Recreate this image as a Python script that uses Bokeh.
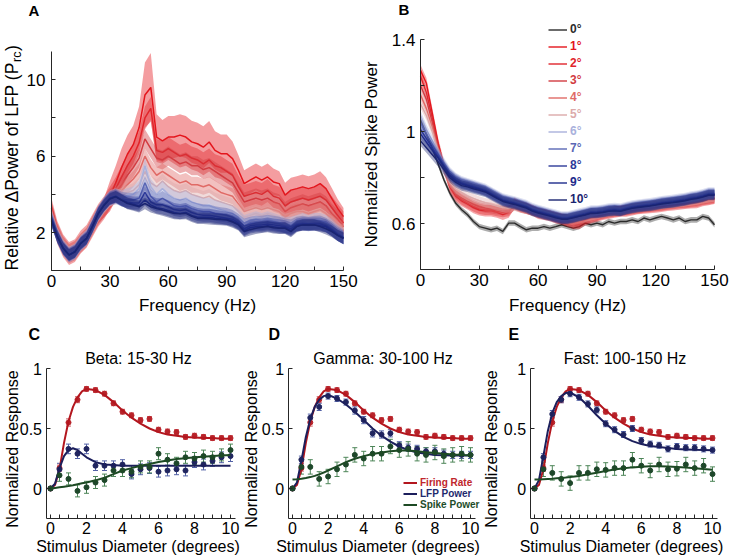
import numpy as np
from bokeh.plotting import figure
from bokeh.models import (ColumnDataSource, FixedTicker, Label, Legend, LegendItem,
                          Whisker, TeeHead, Range1d)
from bokeh.layouts import row, column
from bokeh.embed import file_html
from bokeh.resources import INLINE

FONT = "Liberation Sans"

# ---------------- Panel A / B data (frequency grid, Hz) ----------------
FREQ = [0, 3, 6, 9, 12, 15, 18, 21, 24, 27, 30, 33, 36, 39, 42, 45, 48, 51, 54, 57,
        60, 63, 66, 69, 72, 75, 78, 81, 84, 87, 90, 93, 96, 99, 102, 105, 108, 111,
        114, 117, 120, 123, 126, 129, 132, 135, 138, 141, 144, 147, 150]

DEG_LABELS = ["0°", "1°", "2°", "3°", "4°", "5°", "6°", "7°", "8°", "9°", "10°"]
DEG_COLORS = ["#2b2b2b", "#e4151c", "#e0252b", "#d23b41", "#e06a66", "#dcaaaa",
              "#a9b1dc", "#5a67b5", "#2d3a99", "#1e2b8c", "#1a2470"]

# Panel A: relative delta power of LFP, stimulus diameters 1..10 deg
LFP_1 = [3.3, 2.1, 1.35, 0.95, 1.1, 1.5, 1.8, 2.4, 2.9, 3.3,
         3.9, 4.6, 5.4, 6.1, 6.6, 7.5, 9.2, 9.6, 7.0, 6.8, 7.0, 7.0, 7.1, 7.0, 6.75, 6.65,
         6.47, 6.74, 6.3, 6.13, 6.13, 5.87, 5.26, 4.56, 4.74, 4.91, 4.74, 4.91, 4.65, 4.56,
         3.96, 4.22, 4.3, 4.39, 4.3, 4.39, 4.56, 4.3, 3.78, 3.26, 2.83]
LFP_2 = [3.2, 2.0, 1.3, 0.9, 1.05, 1.5, 1.8, 2.35, 2.9, 3.3,
         3.8, 4.3, 4.9, 5.5, 6.0, 6.7, 8.0, 8.5, 6.3, 6.2, 6.4, 6.2, 6.0, 6.1, 5.9, 5.8,
         5.6, 5.8, 5.5, 5.4, 5.2, 5.0, 4.4, 3.9, 4.0, 4.1, 4.0, 4.2, 3.9, 3.8,
         3.4, 3.6, 3.7, 3.8, 3.7, 3.8, 3.9, 3.7, 3.3, 2.9, 2.5]
LFP_3 = [3.1, 2.0, 1.3, 0.9, 1.05, 1.45, 1.75, 2.35, 2.9, 3.3,
         3.75, 4.1, 4.5, 5.0, 5.4, 5.9, 6.9, 6.4, 5.9, 5.8, 6.0, 5.8, 5.6, 5.7, 5.5, 5.5,
         5.3, 5.4, 5.2, 5.0, 4.8, 4.6, 4.1, 3.6, 3.7, 3.8, 3.7, 3.8, 3.6, 3.5,
         3.1, 3.3, 3.4, 3.5, 3.4, 3.5, 3.6, 3.4, 3.0, 2.7, 2.3]
LFP_4 = [3.0, 1.95, 1.25, 0.88, 1.0, 1.45, 1.75, 2.35, 2.95, 3.35,
         3.75, 3.95, 4.2, 4.5, 4.8, 5.2, 6.0, 5.4, 5.0, 5.2, 5.0, 4.8, 4.6, 4.7, 4.5, 4.5,
         4.4, 4.5, 4.3, 4.1, 4.0, 3.9, 3.5, 3.1, 3.2, 3.3, 3.2, 3.3, 3.2, 3.1,
         2.8, 3.0, 3.1, 3.1, 3.0, 3.1, 3.2, 3.0, 2.7, 2.4, 2.1]
LFP_5 = [2.9, 1.9, 1.25, 0.87, 1.0, 1.45, 1.75, 2.35, 2.95, 3.4,
         3.75, 3.85, 3.95, 4.1, 4.2, 4.5, 5.2, 4.6, 4.4, 4.7, 4.4, 4.2, 4.1, 4.2, 4.0, 3.9,
         3.8, 3.9, 3.7, 3.6, 3.5, 3.4, 3.1, 2.8, 2.9, 3.0, 2.9, 3.0, 2.9, 2.8,
         2.6, 2.7, 2.8, 2.8, 2.7, 2.8, 2.9, 2.7, 2.5, 2.2, 2.0]
LFP_6 = [2.8, 1.85, 1.2, 0.85, 1.0, 1.45, 1.72, 2.35, 3.0, 3.45,
         3.8, 3.9, 3.8, 3.9, 4.0, 4.3, 5.5, 4.4, 4.0, 4.3, 4.0, 3.8, 3.7, 3.8, 3.6, 3.5,
         3.4, 3.4, 3.3, 3.2, 3.1, 3.0, 2.8, 2.5, 2.6, 2.7, 2.6, 2.7, 2.6, 2.5,
         2.4, 2.4, 2.5, 2.6, 2.5, 2.6, 2.6, 2.5, 2.3, 2.0, 1.8]
LFP_7 = [2.75, 1.82, 1.2, 0.84, 1.0, 1.44, 1.72, 2.33, 3.0, 3.45,
         3.8, 3.9, 3.75, 3.7, 3.7, 3.8, 4.6, 3.9, 3.6, 3.8, 3.6, 3.4, 3.35, 3.4, 3.25, 3.15,
         3.1, 3.1, 3.0, 2.95, 2.9, 2.8, 2.6, 2.35, 2.45, 2.5, 2.5, 2.55, 2.5, 2.45,
         2.35, 2.3, 2.45, 2.5, 2.45, 2.5, 2.5, 2.4, 2.2, 1.95, 1.75]
LFP_8 = [2.7, 1.8, 1.18, 0.83, 1.0, 1.44, 1.7, 2.32, 3.0, 3.45,
         3.8, 3.9, 3.7, 3.6, 3.55, 3.55, 4.1, 3.6, 3.45, 3.45, 3.35, 3.2, 3.15, 3.2, 3.05, 2.95,
         2.9, 2.9, 2.85, 2.8, 2.75, 2.7, 2.5, 2.2, 2.35, 2.4, 2.4, 2.45, 2.4, 2.35,
         2.3, 2.2, 2.4, 2.45, 2.45, 2.45, 2.45, 2.35, 2.15, 1.9, 1.72]
LFP_9 = [2.65, 1.79, 1.18, 0.83, 1.0, 1.44, 1.7, 2.31, 3.0, 3.44,
         3.78, 3.88, 3.7, 3.55, 3.48, 3.4, 3.7, 3.45, 3.3, 3.25, 3.15, 3.05, 3.0, 3.05, 2.9, 2.8,
         2.8, 2.8, 2.75, 2.72, 2.7, 2.6, 2.45, 2.1, 2.25, 2.3, 2.3, 2.35, 2.3, 2.25,
         2.25, 2.1, 2.35, 2.4, 2.4, 2.4, 2.35, 2.3, 2.1, 1.85, 1.7]
LFP_10 = [2.6, 1.78, 1.17, 0.82, 0.98, 1.42, 1.68, 2.3, 2.98, 3.42,
          3.75, 3.87, 3.7, 3.52, 3.44, 3.35, 3.52, 3.35, 3.26, 3.18, 3.09, 3.0, 2.98, 3.0, 2.85, 2.74,
          2.74, 2.72, 2.7, 2.68, 2.66, 2.55, 2.4, 2.05, 2.15, 2.22, 2.28, 2.31, 2.25, 2.22,
          2.22, 2.05, 2.31, 2.4, 2.4, 2.4, 2.31, 2.2, 2.05, 1.85, 1.7]
LFP_1_SEM = [0.3, 0.3, 0.25, 0.25, 0.25, 0.25, 0.3, 0.3, 0.4, 0.5,
             0.8, 0.9, 1.0, 1.0, 1.0, 1.1, 1.7, 1.8, 1.2, 1.1, 1.1, 1.1, 1.1, 1.1, 1.1, 1.1,
             1.1, 1.1, 1.0, 1.0, 1.0, 0.9, 0.8, 0.7, 0.7, 0.7, 0.7, 0.7, 0.7, 0.65,
             0.65, 0.65, 0.65, 0.65, 0.65, 0.65, 0.65, 0.6, 0.55, 0.5, 0.45]
LFP_SEM_OTHERS = [0.6, 0.5, 0.42, 0.38, 0.42, 0.38, 0.34, 0.3, 0.3]

# Panel B: normalized spike power, diameters 0..10 deg
SPK_0 = [1.05, 0.99, 0.93, 0.86, 0.79, 0.733, 0.689, 0.661, 0.639, 0.61,
         0.588, 0.581, 0.574, 0.581, 0.567, 0.603, 0.603, 0.588, 0.574, 0.581,
         0.581, 0.588, 0.581, 0.588, 0.596, 0.588, 0.581, 0.588, 0.603, 0.596,
         0.603, 0.596, 0.61, 0.603, 0.61, 0.61, 0.617, 0.61, 0.625, 0.617,
         0.625, 0.632, 0.625, 0.617, 0.625, 0.61, 0.617, 0.617, 0.632, 0.625, 0.596]
SPK_1 = [1.266, 1.21, 1.08, 0.95, 0.85, 0.76, 0.72, 0.70, 0.686, 0.67,
         0.66, 0.656, 0.656, 0.65, 0.64, 0.65, 0.69, 0.675, 0.668, 0.66,
         0.645, 0.64, 0.635, 0.625, 0.62, 0.61, 0.60, 0.60, 0.617, 0.625,
         0.632, 0.64, 0.645, 0.65, 0.655, 0.655, 0.66, 0.665, 0.668, 0.67,
         0.672, 0.675, 0.68, 0.682, 0.685, 0.688, 0.69, 0.692, 0.70, 0.705, 0.71]
SPK_2 = [1.24, 1.17, 1.06, 0.94, 0.845, 0.765, 0.725, 0.705, 0.69, 0.675,
         0.665, 0.66, 0.66, 0.655, 0.65, 0.655, 0.685, 0.672, 0.665, 0.658,
         0.648, 0.642, 0.636, 0.628, 0.622, 0.614, 0.605, 0.606, 0.62, 0.628,
         0.635, 0.642, 0.648, 0.652, 0.656, 0.658, 0.662, 0.666, 0.67, 0.672,
         0.675, 0.678, 0.682, 0.685, 0.688, 0.69, 0.693, 0.695, 0.702, 0.706, 0.71]
SPK_3 = [1.20, 1.14, 1.04, 0.93, 0.84, 0.77, 0.73, 0.712, 0.698, 0.684,
         0.674, 0.668, 0.665, 0.66, 0.656, 0.66, 0.68, 0.67, 0.664, 0.656,
         0.648, 0.643, 0.638, 0.63, 0.625, 0.618, 0.61, 0.612, 0.624, 0.63,
         0.637, 0.644, 0.65, 0.654, 0.657, 0.66, 0.664, 0.668, 0.671, 0.674,
         0.677, 0.68, 0.684, 0.687, 0.69, 0.692, 0.695, 0.698, 0.704, 0.708, 0.712]
SPK_4 = [1.16, 1.10, 1.02, 0.92, 0.835, 0.775, 0.74, 0.72, 0.706, 0.693,
         0.683, 0.676, 0.672, 0.666, 0.662, 0.664, 0.678, 0.668, 0.662, 0.655,
         0.648, 0.643, 0.638, 0.631, 0.626, 0.62, 0.614, 0.616, 0.626, 0.632,
         0.638, 0.645, 0.65, 0.655, 0.658, 0.661, 0.665, 0.669, 0.672, 0.675,
         0.678, 0.681, 0.685, 0.688, 0.691, 0.694, 0.697, 0.70, 0.706, 0.71, 0.714]
SPK_5 = [1.12, 1.07, 1.0, 0.91, 0.83, 0.78, 0.75, 0.735, 0.72, 0.71,
         0.70, 0.692, 0.685, 0.677, 0.67, 0.668, 0.676, 0.668, 0.662, 0.654,
         0.647, 0.642, 0.637, 0.631, 0.626, 0.621, 0.617, 0.62, 0.628, 0.634,
         0.64, 0.646, 0.651, 0.655, 0.658, 0.662, 0.666, 0.67, 0.673, 0.676,
         0.679, 0.683, 0.686, 0.689, 0.692, 0.695, 0.698, 0.702, 0.708, 0.712, 0.716]
SPK_6 = [1.07, 1.01, 0.96, 0.91, 0.865, 0.825, 0.80, 0.785, 0.777, 0.769,
         0.761, 0.753, 0.739, 0.725, 0.711, 0.704, 0.698, 0.69, 0.682, 0.669,
         0.661, 0.654, 0.647, 0.64, 0.633, 0.633, 0.639, 0.645, 0.651, 0.658,
         0.659, 0.662, 0.667, 0.669, 0.667, 0.674, 0.68, 0.684, 0.687, 0.69,
         0.694, 0.699, 0.702, 0.705, 0.709, 0.713, 0.719, 0.723, 0.729, 0.737, 0.737]
SPK_7 = [1.04, 0.99, 0.945, 0.90, 0.857, 0.818, 0.795, 0.78, 0.772, 0.764,
         0.756, 0.748, 0.734, 0.72, 0.706, 0.699, 0.693, 0.685, 0.677, 0.664,
         0.656, 0.649, 0.642, 0.635, 0.628, 0.628, 0.634, 0.64, 0.646, 0.653,
         0.654, 0.657, 0.662, 0.664, 0.662, 0.669, 0.675, 0.679, 0.682, 0.685,
         0.689, 0.694, 0.697, 0.70, 0.704, 0.708, 0.714, 0.718, 0.724, 0.732, 0.732]
SPK_8 = [1.01, 0.97, 0.93, 0.892, 0.85, 0.812, 0.79, 0.776, 0.768, 0.76,
         0.752, 0.744, 0.73, 0.716, 0.702, 0.695, 0.689, 0.681, 0.673, 0.66,
         0.652, 0.645, 0.638, 0.631, 0.624, 0.624, 0.63, 0.636, 0.642, 0.649,
         0.65, 0.653, 0.658, 0.66, 0.658, 0.665, 0.671, 0.675, 0.678, 0.681,
         0.685, 0.69, 0.693, 0.696, 0.70, 0.704, 0.71, 0.714, 0.72, 0.728, 0.728]
SPK_9 = [0.99, 0.955, 0.92, 0.885, 0.845, 0.808, 0.786, 0.772, 0.765, 0.757,
         0.75, 0.742, 0.728, 0.714, 0.70, 0.693, 0.687, 0.679, 0.671, 0.658,
         0.65, 0.643, 0.636, 0.629, 0.622, 0.622, 0.628, 0.634, 0.64, 0.647,
         0.648, 0.651, 0.656, 0.658, 0.656, 0.663, 0.669, 0.673, 0.676, 0.679,
         0.683, 0.688, 0.691, 0.694, 0.698, 0.702, 0.708, 0.712, 0.718, 0.726, 0.726]
SPK_10 = [0.96, 0.93, 0.90, 0.87, 0.835, 0.80, 0.78, 0.766, 0.76, 0.752,
          0.745, 0.738, 0.724, 0.71, 0.697, 0.69, 0.684, 0.676, 0.668, 0.655,
          0.647, 0.64, 0.633, 0.626, 0.62, 0.62, 0.626, 0.632, 0.638, 0.645,
          0.646, 0.649, 0.654, 0.656, 0.654, 0.661, 0.667, 0.671, 0.674, 0.677,
          0.681, 0.686, 0.689, 0.692, 0.696, 0.70, 0.706, 0.71, 0.716, 0.724, 0.724]
SPK_SEM = [0.012, 0.024, 0.022, 0.02, 0.02, 0.02, 0.022, 0.022, 0.022, 0.022, 0.022]

# ---------------- Panels C-E data (stimulus diameter, degrees) ----------------
DIAM = [0, 0.5, 1, 1.5, 2, 2.5, 3, 3.5, 4, 4.5, 5, 5.5, 6, 6.5, 7, 7.5, 8, 8.5, 9, 9.5, 10]
FIT_X = [0, 0.25, 0.5, 0.75, 1, 1.25, 1.5, 1.75, 2, 2.5, 3, 3.5, 4, 4.5, 5, 5.5, 6, 6.5,
         7, 7.5, 8, 8.5, 9, 9.5, 10]

FIRING = [0, 0.17, 0.55, 0.74, 0.83, 0.82, 0.79, 0.71, 0.64, 0.61, 0.57, 0.58, 0.49,
          0.475, 0.47, 0.43, 0.44, 0.43, 0.42, 0.42, 0.42]
FIRING_SEM = [0.01, 0.025, 0.03, 0.025, 0.02, 0.02, 0.02, 0.02, 0.02, 0.02, 0.02, 0.02,
              0.02, 0.02, 0.02, 0.02, 0.02, 0.02, 0.02, 0.02, 0.02]
FIRING_FIT = [0, 0.03, 0.16, 0.38, 0.56, 0.68, 0.76, 0.81, 0.83, 0.82, 0.78, 0.72, 0.65,
              0.59, 0.54, 0.5, 0.47, 0.45, 0.44, 0.43, 0.425, 0.42, 0.42, 0.415, 0.415]

BETA_LFP = [0, 0.16, 0.33, 0.29, 0.33, 0.19, 0.19, 0.19, 0.2, 0.12, 0.16, 0.17, 0.14,
            0.15, 0.16, 0.15, 0.22, 0.2, 0.23, 0.26, 0.27]
BETA_LFP_SEM = [0.01, 0.05, 0.04, 0.04, 0.04, 0.04, 0.04, 0.04, 0.04, 0.04, 0.045, 0.045,
                0.045, 0.045, 0.045, 0.045, 0.045, 0.045, 0.045, 0.045, 0.045]
BETA_LFP_FIT = [0, 0.04, 0.17, 0.27, 0.32, 0.335, 0.32, 0.29, 0.26, 0.22, 0.2, 0.195,
                0.19, 0.19, 0.19, 0.19, 0.19, 0.19, 0.19, 0.19, 0.19, 0.19, 0.19, 0.19, 0.19]
BETA_SPIKE = [0, 0.11, 0.08, -0.02, 0.01, 0.05, 0.07, 0.15, 0.15, 0.14, 0.18, 0.18, 0.29,
              0.24, 0.21, 0.26, 0.25, 0.27, 0.26, 0.28, 0.32]
BETA_SPIKE_SEM = [0.01, 0.05, 0.05, 0.05, 0.05, 0.05, 0.05, 0.05, 0.05, 0.05, 0.05, 0.05,
                  0.05, 0.05, 0.05, 0.05, 0.05, 0.05, 0.05, 0.05, 0.05]
BETA_SPIKE_FIT = [0, 0.005, 0.01, 0.015, 0.02, 0.027, 0.035, 0.043, 0.05, 0.068, 0.09,
                  0.12, 0.15, 0.17, 0.19, 0.205, 0.22, 0.233, 0.245, 0.253, 0.26, 0.265,
                  0.27, 0.275, 0.28]

GAMMA_LFP = [0, 0.24, 0.59, 0.68, 0.77, 0.75, 0.72, 0.65, 0.57, 0.46, 0.45, 0.46, 0.36,
             0.34, 0.33, 0.31, 0.31, 0.29, 0.28, 0.28, 0.28]
GAMMA_LFP_SEM = [0.01, 0.03, 0.03, 0.03, 0.025, 0.025, 0.025, 0.03, 0.03, 0.03, 0.03,
                 0.03, 0.03, 0.03, 0.03, 0.03, 0.03, 0.03, 0.03, 0.03, 0.03]
GAMMA_LFP_FIT = [0, 0.05, 0.23, 0.43, 0.58, 0.68, 0.74, 0.77, 0.78, 0.75, 0.7, 0.64, 0.57,
                 0.5, 0.44, 0.39, 0.35, 0.32, 0.3, 0.29, 0.28, 0.278, 0.276, 0.275, 0.275]
GAMMA_SPIKE = [0, 0.18, 0.18, 0.08, 0.1, 0.16, 0.2, 0.28, 0.25, 0.29, 0.29, 0.35, 0.32,
               0.33, 0.29, 0.28, 0.3, 0.27, 0.28, 0.29, 0.28]
GAMMA_SPIKE_SEM = [0.01, 0.06, 0.06, 0.06, 0.06, 0.06, 0.06, 0.06, 0.06, 0.06, 0.06,
                   0.06, 0.06, 0.06, 0.06, 0.06, 0.06, 0.06, 0.06, 0.06, 0.06]
GAMMA_SPIKE_FIT = [0.075, 0.078, 0.082, 0.088, 0.095, 0.105, 0.118, 0.133, 0.15, 0.185,
                   0.22, 0.248, 0.27, 0.287, 0.3, 0.31, 0.317, 0.316, 0.31, 0.303, 0.295,
                   0.289, 0.283, 0.28, 0.278]

FAST_LFP = [0, 0.26, 0.62, 0.74, 0.79, 0.76, 0.705, 0.655, 0.54, 0.49, 0.45, 0.5, 0.4,
            0.37, 0.36, 0.33, 0.35, 0.34, 0.34, 0.33, 0.32]
FAST_LFP_SEM = [0.01, 0.03, 0.03, 0.025, 0.025, 0.025, 0.025, 0.025, 0.025, 0.025, 0.025,
                0.025, 0.025, 0.025, 0.025, 0.025, 0.025, 0.025, 0.025, 0.025, 0.025]
FAST_LFP_FIT = [0, 0.07, 0.27, 0.48, 0.63, 0.72, 0.77, 0.795, 0.8, 0.76, 0.69, 0.61, 0.54,
                0.48, 0.43, 0.395, 0.37, 0.355, 0.345, 0.337, 0.33, 0.326, 0.322, 0.32, 0.318]
FAST_SPIKE = [0, 0.16, 0.13, 0.08, 0.045, 0.13, 0.13, 0.16, 0.155, 0.17, 0.17, 0.24, 0.19,
              0.15, 0.2, 0.16, 0.165, 0.2, 0.17, 0.19, 0.12]
FAST_SPIKE_SEM = [0.01, 0.06, 0.06, 0.06, 0.06, 0.06, 0.06, 0.06, 0.06, 0.06, 0.06, 0.06,
                  0.06, 0.06, 0.06, 0.06, 0.06, 0.06, 0.06, 0.06, 0.06]
FAST_SPIKE_FIT = [0.075, 0.076, 0.078, 0.08, 0.082, 0.085, 0.088, 0.091, 0.095, 0.105,
                  0.118, 0.132, 0.145, 0.158, 0.168, 0.176, 0.182, 0.185, 0.185, 0.183,
                  0.18, 0.175, 0.168, 0.162, 0.157]

SERIES_NAMES = ["Firing Rate", "LFP Power", "Spike Power"]
TITLES = ["Beta: 15-30 Hz", "Gamma: 30-100 Hz", "Fast: 100-150 Hz"]

# tick definitions
FREQ_TICKS = [0, 15, 30, 45, 60, 75, 90, 105, 120, 135, 150]
FREQ_TICK_LABELS = ["0", "", "30", "", "60", "", "90", "", "120", "", "150"]
A_YTICKS = [0, 2, 4, 6, 8, 10]
A_YTICK_LABELS = ["", "2", "", "6", "", "10"]
B_YTICKS = [0.4, 0.6, 0.8, 1.0, 1.2, 1.4]
B_YTICK_LABELS = ["", "0.6", "", "1", "", "1.4"]
D_XTICKS = [0, 0.5, 1, 1.5, 2, 2.5, 3, 3.5, 4, 4.5, 5, 5.5, 6, 6.5, 7, 7.5, 8, 8.5, 9, 9.5, 10]
D_XTICK_LABELS = ["0", "", "", "", "2", "", "", "", "4", "", "", "", "6", "", "", "",
                  "8", "", "", "", "10"]
R_YTICKS = [0, 0.5, 1]
R_YTICK_LABELS = ["0", "0.5", "1"]

# colors for C-E
RED = dict(line="#b3161e", pt="#b8232a", err="#cf5a60", text="#c0262c")
NAVY = dict(line="#1c1f5c", pt="#20255f", err="#5261a6", text="#1f2a6e")
GREEN = dict(line="#1d4a24", pt="#1e472a", err="#4d8558", text="#1e4d2a")
AXIS_COLOR = "#262626"


# ---------------- layout helpers (page-pixel geometry) ----------------
class Geom:
    """Figure canvas at page (left, top, width, height); data value xa sits at page xpa etc."""
    def __init__(self, left, top, width, height, xa, xpa, xb, xpb, ya, ypa, yb, ypb):
        self.left, self.top, self.width, self.height = left, top, width, height
        kx = (xpb - xpa) / (xb - xa)
        ky = (ypa - ypb) / (yb - ya)
        self.x_range = (xa - (xpa - left) / kx, xa + (left + width - xpa) / kx)
        self.y_range = (ya - (top + height - ypa) / ky, ya + (ypa - top) / ky)

    def sx(self, px):
        return px - self.left

    def sy(self, py):
        return self.top + self.height - py


def style_axis(ax, ticks, labels, tick_size, tick_standoff, fixed, bounds):
    ax.fixed_location = fixed
    ax.bounds = bounds
    ax.ticker = FixedTicker(ticks=ticks)
    ax.major_label_overrides = {t: l for t, l in zip(ticks, labels)}
    ax.minor_tick_line_color = None
    ax.major_tick_in = 4
    ax.major_tick_out = 0
    ax.axis_line_color = AXIS_COLOR
    ax.major_tick_line_color = AXIS_COLOR
    ax.major_label_text_font = FONT
    ax.major_label_text_font_size = tick_size
    ax.major_label_text_color = "black"
    ax.major_label_standoff = tick_standoff


def base_fig(g):
    p = figure(width=g.width, height=g.height, x_range=Range1d(*g.x_range),
               y_range=Range1d(*g.y_range), output_backend="svg", toolbar_location=None,
               min_border=0, min_border_left=0, min_border_right=0, min_border_top=0,
               min_border_bottom=0)
    p.grid.visible = False
    p.outline_line_color = None
    p.title.visible = False
    return p


def text(p, g, px, py, txt, size, align="center", baseline="middle", angle=0.0,
         bold=False, color="black"):
    p.add_layout(Label(x=g.sx(px), y=g.sy(py), x_units="screen", y_units="screen",
                       text=txt, text_font=FONT, text_font_size=size,
                       text_font_style="bold" if bold else "normal", angle=angle,
                       text_align=align, text_baseline=baseline, text_color=color))


# ---------------- Panel A ----------------
gA = Geom(0, 0, 360, 318, 0, 51, 150, 343, 0, 270.2, 10, 79.3)
pA = base_fig(gA)
style_axis(pA.xaxis[0], FREQ_TICKS, FREQ_TICK_LABELS, "17px", 4, 0, (0, 150))
style_axis(pA.yaxis[0], A_YTICKS, A_YTICK_LABELS, "17px", 6, 0, (0, 11.5))
lfp_curves = [LFP_1, LFP_2, LFP_3, LFP_4, LFP_5, LFP_6, LFP_7, LFP_8, LFP_9, LFP_10]
lfp_sems = [LFP_1_SEM] + LFP_SEM_OTHERS
for vals, sem, col in zip(lfp_curves, lfp_sems, DEG_COLORS[1:]):
    v = np.asarray(vals, float)
    s = np.broadcast_to(np.asarray(sem, float), v.shape)
    pA.varea(x=FREQ, y1=v - s, y2=v + s, fill_color=col, fill_alpha=0.42)
    pA.line(FREQ, v, line_color=col, line_width=1.5)
text(pA, gA, 197, 305, "Frequency (Hz)", "17px")
# rotated y label with subscript: main part, subscript, closing bracket
text(pA, gA, 11.5, 270, "Relative \u0394Power of LFP (P", "17.5px", align="left",
     angle=np.pi / 2)
text(pA, gA, 16.5, 270 - 208.6, "rc", "12.5px", align="left", angle=np.pi / 2)
text(pA, gA, 11.5, 270 - 219.5, ")", "17.5px", align="left", angle=np.pi / 2)
text(pA, gA, 28, 1, "A", "15px", align="left", baseline="top", bold=True)

# ---------------- Panel B ----------------
gB = Geom(360, 0, 369, 318, 0, 420, 150, 714, 0.6, 223.3, 1.4, 39)
pB = base_fig(gB)
style_axis(pB.xaxis[0], FREQ_TICKS, FREQ_TICK_LABELS, "17px", 4, 0.4, (0, 150))
style_axis(pB.yaxis[0], B_YTICKS, B_YTICK_LABELS, "17px", 5, 0, (0.4, 1.4))
spk_curves = [SPK_0, SPK_1, SPK_2, SPK_3, SPK_4, SPK_5, SPK_6, SPK_7, SPK_8, SPK_9, SPK_10]
b_lines = []
for k, (vals, sem, col) in enumerate(zip(spk_curves, SPK_SEM, DEG_COLORS)):
    v = np.asarray(vals, float)
    band_col = "#8a8a8a" if k == 0 else col
    pB.varea(x=FREQ, y1=v - sem, y2=v + sem, fill_color=band_col,
             fill_alpha=0.7 if k == 0 else 0.38)
    b_lines.append(pB.line(FREQ, v, line_color=col, line_width=1.4))
for k, (r, lab, col) in enumerate(zip(b_lines, DEG_LABELS, DEG_COLORS)):
    row_center = 29.3 + 17 * k
    lg = Legend(items=[LegendItem(label=lab, renderers=[r])],
                location=(gB.sx(548), gB.sy(row_center + 8.5)), glyph_width=19,
                glyph_height=17, label_height=17, label_width=10, label_standoff=3,
                padding=0, margin=0, spacing=0, border_line_color=None,
                background_fill_alpha=0, label_text_font=FONT, label_text_font_size="12px",
                label_text_font_style="bold", label_text_color=col)
    pB.add_layout(lg)
text(pB, gB, 567, 305, "Frequency (Hz)", "17px")
text(pB, gB, 371, 154, "Normalized Spike Power", "17px", angle=np.pi / 2)
text(pB, gB, 398, 0, "B", "15px", align="left", baseline="top", bold=True)


# ---------------- Panels C-E ----------------
def response_panel(g, letter_px, title_px, xlabel_px, ylabel_px, letter_txt, title,
                   lfp, lfp_sem, lfp_fit, spk, spk_sem, spk_fit):
    p = base_fig(g)
    style_axis(p.xaxis[0], D_XTICKS, D_XTICK_LABELS, "16px", 3, -0.25, (-0.25, 10.3))
    style_axis(p.yaxis[0], R_YTICKS, R_YTICK_LABELS, "16px", 4, -0.25, (-0.25, 1))
    fits = []
    for vals, sem, fit, c in ((FIRING, FIRING_SEM, FIRING_FIT, RED),
                              (lfp, lfp_sem, lfp_fit, NAVY),
                              (spk, spk_sem, spk_fit, GREEN)):
        v = np.asarray(vals, float)
        s = np.asarray(sem, float)
        src = ColumnDataSource(dict(x=DIAM, lo=v - s, hi=v + s))
        p.add_layout(Whisker(source=src, base="x", lower="lo", upper="hi",
                             line_color=c["err"], line_width=1,
                             lower_head=TeeHead(size=5, line_color=c["err"], line_width=1),
                             upper_head=TeeHead(size=5, line_color=c["err"], line_width=1)))
        p.scatter(DIAM, v, size=5, color=c["pt"])
        fits.append(p.line(FIT_X, fit, line_color=c["line"], line_width=2))
    text(p, g, title_px, 357.5, title, "16px")
    text(p, g, xlabel_px, 546, "Stimulus Diameter (degrees)", "16px")
    text(p, g, ylabel_px, 448.5, "Normalized Response", "16px", angle=np.pi / 2)
    text(p, g, letter_px, 325, letter_txt, "16px", align="left", baseline="top",
         bold=True)
    return p, fits


gC = Geom(0, 318, 242, 239, 0, 50, 10, 230, 0, 488, 1, 368)
gD = Geom(242, 318, 240, 239, 0, 292, 10, 470, 0, 488, 1, 368)
gE = Geom(482, 318, 247, 239, 0, 534, 10, 712, 0, 488, 1, 368)

pC, _ = response_panel(gC, 28, 138, 137.5, 11.5, "C", TITLES[0], BETA_LFP, BETA_LFP_SEM,
                       BETA_LFP_FIT, BETA_SPIKE, BETA_SPIKE_SEM, BETA_SPIKE_FIT)
pD, d_fits = response_panel(gD, 268, 382.5, 377.5, 251, "D", TITLES[1], GAMMA_LFP,
                            GAMMA_LFP_SEM, GAMMA_LFP_FIT, GAMMA_SPIKE, GAMMA_SPIKE_SEM,
                            GAMMA_SPIKE_FIT)
pE, _ = response_panel(gE, 508, 624.5, 621, 491, "E", TITLES[2], FAST_LFP, FAST_LFP_SEM,
                       FAST_LFP_FIT, FAST_SPIKE, FAST_SPIKE_SEM, FAST_SPIKE_FIT)

for k, (r, name, c) in enumerate(zip(d_fits, SERIES_NAMES, (RED, NAVY, GREEN))):
    center = 482.7 + 11 * k
    lg = Legend(items=[LegendItem(label=name, renderers=[r])],
                location=(gD.sx(403), gD.sy(center + 5.5)), glyph_width=14,
                glyph_height=11, label_height=11, label_width=10, label_standoff=3,
                padding=0, margin=0, spacing=0, border_line_color=None,
                background_fill_alpha=0, label_text_font=FONT, label_text_font_size="10px",
                label_text_font_style="bold", label_text_color=c["text"])
    pD.add_layout(lg)

layout = column(row(pA, pB), row(pC, pD, pE))
open("out.html", "w").write(file_html(layout, INLINE))
